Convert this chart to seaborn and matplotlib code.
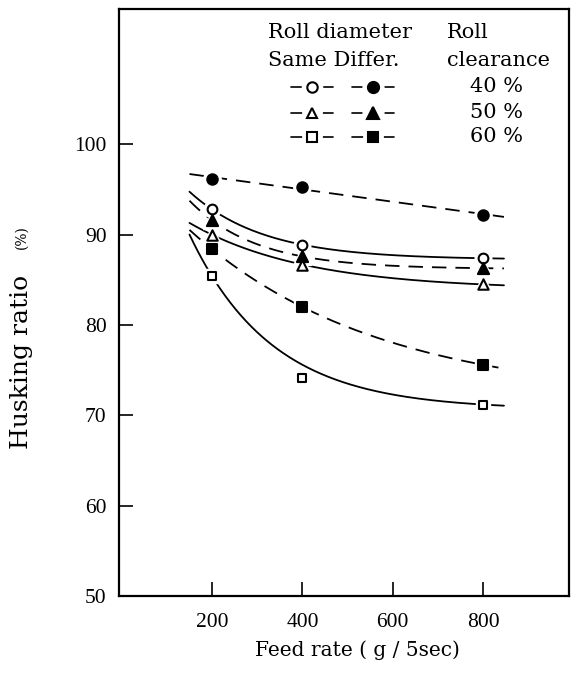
import numpy as np
import pandas as pd
import matplotlib
matplotlib.use("Agg")
import matplotlib.pyplot as plt
import seaborn as sns

# ---------------- data ----------------
feed_rate = [200, 400, 800]
# Same roll diameter (open markers, solid curves)
same_40 = [92.8, 88.9, 87.4]
same_50 = [90.0, 86.7, 84.5]
same_60 = [85.4, 74.1, 71.2]
same_60_curve = [85.4, 75.6, 71.2]   # fitted curve readings (marker at 400 lies off curve)
# Different roll diameter (filled markers, dashed curves)
diff_40 = [96.2, 95.3, 92.2]
diff_50 = [91.6, 87.6, 86.3]
diff_60 = [88.4, 82.0, 75.6]

clearances = ["40", "50", "60"]
x_ticks = [200, 400, 600, 800]
y_ticks = [50, 60, 70, 80, 90, 100]
curve_range = [150, 846]

# ---------------- style ----------------
sns.set_theme(style="ticks")
plt.rcParams["font.family"] = ["Liberation Serif", "DejaVu Serif"]
plt.rcParams["text.color"] = "black"
plt.rcParams["axes.labelcolor"] = "black"
plt.rcParams["xtick.color"] = "black"
plt.rcParams["ytick.color"] = "black"

W, H = 571, 674
fig = plt.figure(figsize=(W / 100, H / 100), dpi=100)
ax_l, ax_r, ax_b, ax_t = 119, 569, 596, 9
ax = fig.add_axes([ax_l / W, (H - ax_b) / H, (ax_r - ax_l) / W, (ax_b - ax_t) / H])
ax.set_facecolor("white")
fig.patch.set_facecolor("white")

WIDE = ["DejaVu Serif"]


def fit_curve(x, y, kind):
    x = np.asarray(x, float)
    y = np.asarray(y, float)
    if kind == "lin":
        c = np.polyfit(x, y, 1)
        return lambda xx: np.polyval(c, xx)
    best = None
    for k in np.linspace(0.0005, 0.03, 4000):
        A = np.column_stack([np.ones_like(x), np.exp(-k * x)])
        coef, *_ = np.linalg.lstsq(A, y, rcond=None)
        err = np.sum((A @ coef - y) ** 2)
        if best is None or err < best[0]:
            best = (err, k, coef)
    _, k, coef = best
    return lambda xx: coef[0] + coef[1] * np.exp(-k * xx)


series = [
    # marker values, curve values, marker, filled, linestyle, fit kind, size
    (diff_40, diff_40, "o", True, "dashed", "lin", 7.5),
    (same_40, same_40, "o", False, "solid", "exp", 7),
    (diff_50, diff_50, "^", True, "dashed", "exp", 8),
    (same_50, same_50, "^", False, "solid", "exp", 7.5),
    (diff_60, diff_60, "s", True, "dashed", "exp", 6.5),
    (same_60, same_60_curve, "s", False, "solid", "exp", 5.5),
]

xs = np.linspace(curve_range[0], curve_range[1], 300)
lw = 1.3
for vals, cvals, mk, filled, ls, kind, ms in series:
    f = fit_curve(feed_rate, cvals, kind)
    df = pd.DataFrame({"x": xs, "y": f(xs)})
    sns.lineplot(data=df, x="x", y="y", ax=ax, color="black", linewidth=lw,
                 linestyle="-" if ls == "solid" else (0, (8, 5)), zorder=2)

# white halos to break lines at markers, then markers
for vals, cvals, mk, filled, ls, kind, ms in series:
    ax.plot(feed_rate, vals, linestyle="none", marker=mk, ms=ms + 5,
            mfc="white", mec="white", zorder=3)
for vals, cvals, mk, filled, ls, kind, ms in series:
    dm = pd.DataFrame({"x": feed_rate, "y": vals})
    sns.scatterplot(data=dm, x="x", y="y", ax=ax, marker=mk,
                    s=ms ** 2, facecolor="black" if filled else "white",
                    edgecolor="black", linewidth=1.5, zorder=4)

ax.set_xlim(-6, 990)
ax.set_ylim(50, 115)
ax.set_xticks(x_ticks)
ax.set_yticks(y_ticks)
ax.tick_params(direction="in", length=10, width=1.2, labelsize=15.5, colors="black")
ax.tick_params(axis="x", pad=12)
ax.tick_params(axis="y", pad=9)
ax.set_xticklabels([str(v) for v in x_ticks])
ax.set_yticklabels([str(v) for v in y_ticks])
for sp in ax.spines.values():
    sp.set_visible(True)
    sp.set_color("black")
    sp.set_linewidth(1.6)
ax.set_xlabel("")
ax.set_ylabel("")

# axis labels
fig.text(357 / W, 1 - 650 / H, "Feed rate ( g / 5sec)", ha="center", va="center",
         fontsize=14.5, family=WIDE, color="black")
fig.text(22 / W, 1 - 362 / H, "Husking ratio", ha="center", va="center",
         rotation=90, fontsize=18, family=WIDE, color="black")
fig.text(22 / W, 1 - 237 / H, "(%)", ha="center", va="center",
         rotation=90, fontsize=10, family=WIDE, color="black")

# legend
def ax_pt(px, py):
    return ((px - ax_l) / (ax_r - ax_l), (ax_b - py) / (ax_b - ax_t))

fs = 15
for label, px, py in [("Roll diameter", 268, 33), ("Roll", 447, 33),
                      ("Same Differ.", 268, 60), ("clearance", 447, 60)]:
    tx, ty = ax_pt(px, py)
    ax.text(tx, ty, label, transform=ax.transAxes, fontsize=fs, va="center",
            ha="left", family=WIDE, color="black")

row_y = [87, 113, 137]
leg_markers = [("o", 7.5, 8), ("^", 7, 8), ("s", 7, 7)]
for (mk, ms_o, ms_f), ry, cl in zip(leg_markers, row_y, clearances):
    for cx, filled, ms in [(312, False, ms_o), (373, True, ms_f)]:
        x0, yy = ax_pt(cx - 21, ry)
        x1, _ = ax_pt(cx + 21, ry)
        xc, _ = ax_pt(cx, ry)
        ax.plot([x0, x1], [yy, yy], transform=ax.transAxes, color="black", lw=1.2,
                zorder=5, clip_on=False)
        ax.plot([xc], [yy], transform=ax.transAxes, marker="o", ms=ms + 7, mfc="white",
                mec="white", linestyle="none", zorder=6, clip_on=False)
        ax.plot([xc], [yy], transform=ax.transAxes, marker=mk, ms=ms,
                mfc="black" if filled else "white", mec="black", mew=1.5,
                linestyle="none", zorder=7, clip_on=False)
    tx, ty = ax_pt(470, ry)
    ax.text(tx, ty, f"{cl} %", transform=ax.transAxes, fontsize=fs, va="center",
            ha="left", family=WIDE, color="black")

fig.savefig("out.png", dpi=100)
